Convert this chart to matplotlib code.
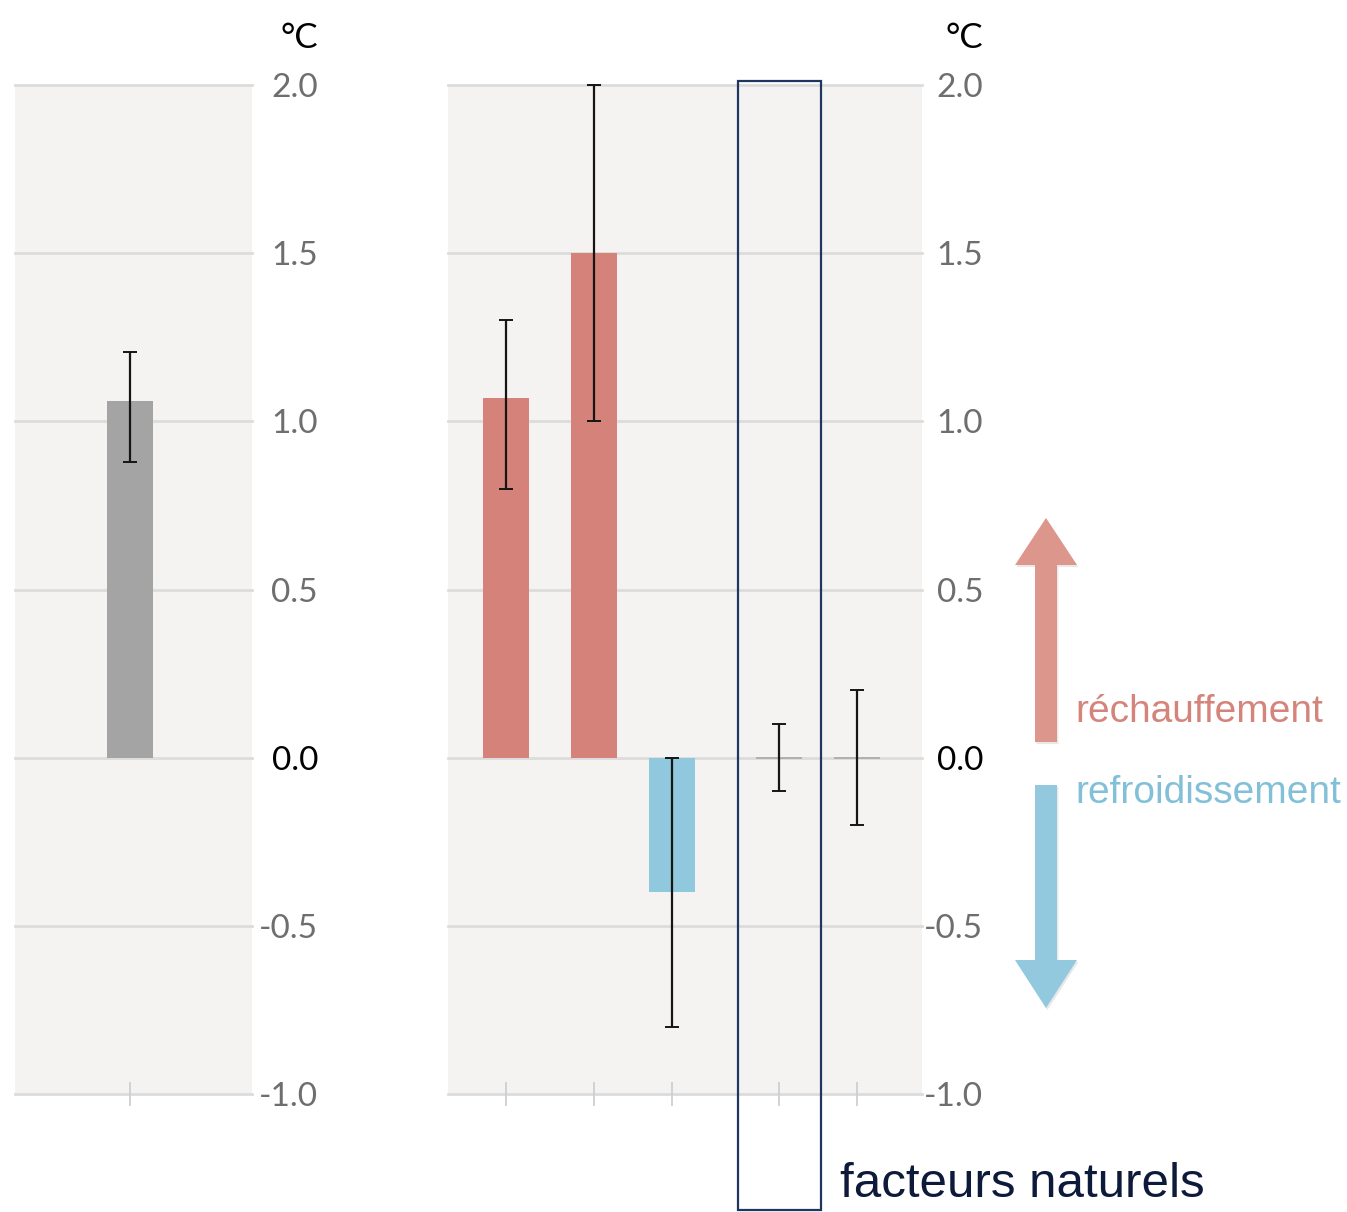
import matplotlib
matplotlib.use("Agg")
import matplotlib.pyplot as plt
from matplotlib.patches import FancyArrow, Rectangle
from matplotlib.transforms import blended_transform_factory
import matplotlib.patheffects as pe

# ---- data -------------------------------------------------------------
observed_value = [1.06]
observed_low = [0.88]
observed_high = [1.205]

factor_values = [1.07, 1.50, -0.40, 0.0, 0.0]
factor_low = [0.80, 1.00, -0.80, -0.10, -0.20]
factor_high = [1.30, 2.00, 0.00, 0.10, 0.20]
factor_colors = ["#d4827a", "#d4827a", "#90c8dd", "none", "none"]

y_ticks = [-1.0, -0.5, 0.0, 0.5, 1.0, 1.5, 2.0]
y_tick_labels = ["-1.0", "-0.5", "0.0", "0.5", "1.0", "1.5", "2.0"]
unit_label = "°C"
natural_label = "facteurs naturels"
warming_label = "réchauffement"
cooling_label = "refroidissement"

# ---- layout -------------------------------------------------------------
W, H = 1347, 1212
DPI = 100
left_pos = [1.15]
factor_pos = [0.58, 1.46, 2.24, 3.31, 4.09]
bar_w = 0.46

panel_bg = "#f4f3f1"
grid_c = "#dcdcdc"
tick_grey = "#6e6e6e"

label_fonts = ["Liberation Sans Narrow", "Lato", "DejaVu Sans"]
plain_fonts = ["Liberation Sans", "Arial", "DejaVu Sans"]
label_size = 24

fig = plt.figure(figsize=(W / DPI, H / DPI), dpi=DPI)
fig.patch.set_facecolor("white")


def fx(px):
    return px / W


def fy(py):
    return 1 - py / H


ax_bottom = fy(1094)
ax_height = fy(85) - fy(1094)
ax_left = fig.add_axes([fx(15), ax_bottom, fx(237), ax_height])
ax_right = fig.add_axes([fx(448), ax_bottom, fx(474), ax_height])


def style_axis(ax, xmax, positions, label_pad):
    ax.set_facecolor(panel_bg)
    ax.set_xlim(0, xmax)
    ax.set_ylim(-1.0, 2.0)
    for s in ax.spines.values():
        s.set_visible(False)
    for yv in y_ticks:
        ax.axhline(yv, color=grid_c, lw=2.0, zorder=0.5, clip_on=False)
    ax.yaxis.tick_right()
    ax.set_yticks(y_ticks)
    ax.set_yticklabels(y_tick_labels, ha="right")
    ax.tick_params(axis="y", length=0, pad=label_pad,
                   labelsize=label_size, labelcolor=tick_grey)
    for lab in ax.get_yticklabels():
        lab.set_fontfamily(label_fonts)
        if lab.get_text() == "0.0":
            lab.set_color("black")
    ax.set_xticks(positions)
    ax.set_xticklabels([])
    ax.tick_params(axis="x", direction="inout", length=17,
                   width=1.3, color="#cfcfcf")


style_axis(ax_left, 2.37, left_pos, 47.5)
style_axis(ax_right, 4.74, factor_pos, 44)

err_kw = dict(fmt="none", ecolor="#151515", elinewidth=1.6,
              capsize=5, capthick=1.4, zorder=3)

# observed warming
ax_left.bar(left_pos, observed_value, width=bar_w, color="#a4a4a4", zorder=2)
ax_left.errorbar(left_pos, observed_value,
                 yerr=[[v - lo for v, lo in zip(observed_value, observed_low)],
                       [hi - v for v, hi in zip(observed_value, observed_high)]],
                 **err_kw)

# contributions
for x, v, c in zip(factor_pos, factor_values, factor_colors):
    if c == "none":
        ax_right.bar(x, v, width=bar_w, color="none", edgecolor="#a8a8a8",
                     linewidth=1.2, zorder=2)
    else:
        ax_right.bar(x, v, width=bar_w, color=c, zorder=2)
eb = ax_right.errorbar(factor_pos, factor_values,
                       yerr=[[v - lo for v, lo in zip(factor_values, factor_low)],
                             [hi - v for v, hi in zip(factor_values, factor_high)]],
                       **err_kw)
for art in list(eb.lines[1]) + list(eb.lines[2]):
    art.set_clip_on(False)

# unit labels above each value axis
for ax, pad in ((ax_left, 47.5), (ax_right, 44)):
    ax.annotate(unit_label, xy=(1, 1), xycoords="axes fraction",
                xytext=(pad, 26.5), textcoords="offset points",
                ha="right", va="baseline",
                fontsize=label_size + 1, color="black", family=label_fonts)

# frame around the natural factors
natural_x = factor_pos[3]
trans = blended_transform_factory(ax_right.transData, fig.transFigure)
frame = Rectangle((natural_x - 0.415, fy(1210)), 0.83, fy(81) - fy(1210),
                  transform=trans, fill=False, edgecolor="#1e3660",
                  linewidth=1.6, clip_on=False, zorder=5)
fig.add_artist(frame)
fig.text(fx(840), fy(1197), natural_label, fontsize=35.5,
         color="#0e1a3a", family=plain_fonts, ha="left", va="baseline")

# direction arrows
shadow = [pe.SimplePatchShadow(offset=(1.0, -1.5), shadow_rgbFace="#666666",
                               alpha=0.15), pe.Normal()]
up = FancyArrow(fx(1046), fy(742), 0, fy(518) - fy(742),
                width=fx(22), head_width=fx(62), head_length=fy(518) - fy(565),
                length_includes_head=True, transform=fig.transFigure,
                color="#dd968c", linewidth=0)
down = FancyArrow(fx(1046), fy(785), 0, fy(1008) - fy(785),
                  width=fx(22), head_width=fx(62), head_length=fy(960) - fy(1008),
                  length_includes_head=True, transform=fig.transFigure,
                  color="#92c9de", linewidth=0)
for a in (up, down):
    a.set_path_effects(shadow)
    fig.add_artist(a)

fig.text(fx(1075), fy(722), warming_label, fontsize=28, color="#d4847b",
         family=plain_fonts, ha="left", va="baseline")
fig.text(fx(1075), fy(803), cooling_label, fontsize=28, color="#82c0d8",
         family=plain_fonts, ha="left", va="baseline")

fig.savefig("out.png", dpi=DPI, facecolor="white")
